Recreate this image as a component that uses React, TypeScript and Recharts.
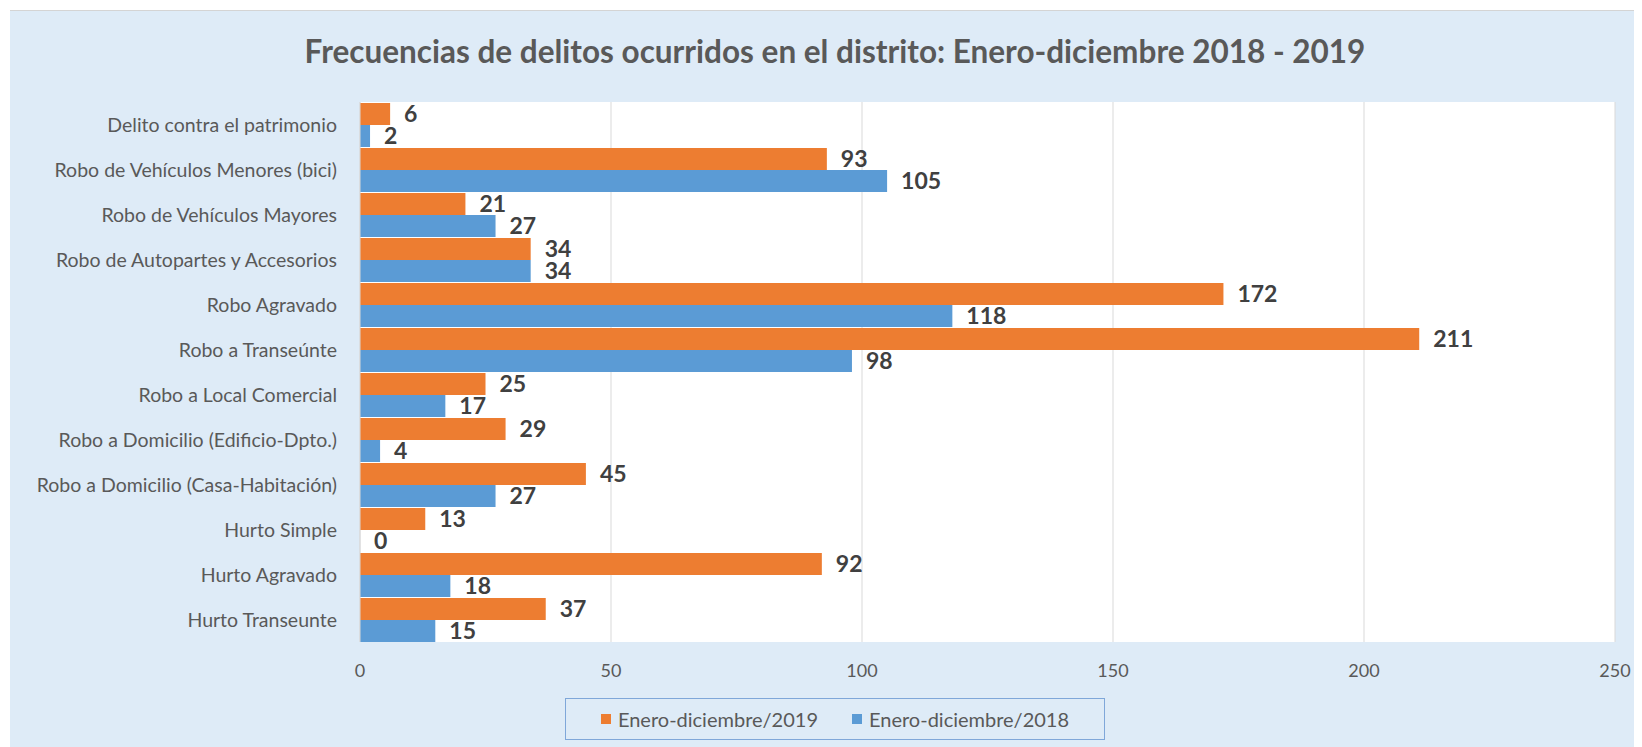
import React from 'react';
import { BarChart, Bar, XAxis, YAxis, CartesianGrid, LabelList } from 'recharts';

const categories = [
  'Delito contra el patrimonio',
  'Robo de Vehículos Menores (bici)',
  'Robo de Vehículos Mayores',
  'Robo de Autopartes y Accesorios',
  'Robo Agravado',
  'Robo a Transeúnte',
  'Robo a Local Comercial',
  'Robo a Domicilio (Edificio-Dpto.)',
  'Robo a Domicilio (Casa-Habitación)',
  'Hurto Simple',
  'Hurto Agravado',
  'Hurto Transeunte',
];
const values2019 = [6, 93, 21, 34, 172, 211, 25, 29, 45, 13, 92, 37];
const values2018 = [2, 105, 27, 34, 118, 98, 17, 4, 27, 0, 18, 15];
const xTicks = [0, 50, 100, 150, 200, 250];
const seriesNames = ['Enero-diciembre/2019', 'Enero-diciembre/2018'];
const title = 'Frecuencias de delitos ocurridos en el distrito: Enero-diciembre 2018 - 2019';

const data = categories.map((name, i) => ({ name, v2019: values2019[i], v2018: values2018[i] }));

const ORANGE = '#ED7D31';
const BLUE = '#5B9BD5';
const FONT = 'Lato, "Open Sans", sans-serif';

const YTick = (props: any) => {
  const { x, y, payload } = props;
  return (
    <text x={x - 23} y={y} textAnchor="end" dominantBaseline="central" fontSize={19.5} fill="#595959" fontFamily={FONT}>
      {payload.value}
    </text>
  );
};

const XTick = (props: any) => {
  const { x, y, payload } = props;
  return (
    <text x={x} y={y + 28} textAnchor="middle" dominantBaseline="central" fontSize={18} fill="#595959" fontFamily={FONT}>
      {payload.value}
    </text>
  );
};

export default function App() {
  return (
    <div
      style={{
        position: 'relative',
        marginLeft: 2,
        marginTop: 2,
        width: 1632,
        height: 737,
        background: '#DEEBF7',
        borderTop: '1px solid #D4D4D4',
        boxSizing: 'border-box',
        fontFamily: FONT,
      }}
    >
      <div
        style={{
          position: 'absolute',
          left: 0,
          width: 1650,
          top: 20,
          textAlign: 'center',
          fontSize: 31.5,
          fontWeight: 700,
          color: '#595959',
          lineHeight: '40px',
        }}
      >
        {title}
      </div>
      <div style={{ position: 'absolute', left: 0, top: 0 }}>
        <BarChart
          width={1632}
          height={736}
          data={data}
          layout="vertical"
          margin={{ top: 91, right: 27, left: 0, bottom: 0 }}
          barCategoryGap={1}
          barGap={0}
        >
          <CartesianGrid horizontal={false} vertical={true} stroke="#D9D9D9" fill="#FFFFFF" />
          <XAxis
            type="number"
            domain={[0, 250]}
            ticks={xTicks}
            height={105}
            axisLine={false}
            tickLine={false}
            tickSize={0}
            tickMargin={0}
            tick={<XTick />}
            interval={0}
          />
          <YAxis
            type="category"
            dataKey="name"
            width={350}
            axisLine={{ stroke: '#D9D9D9' }}
            tickLine={false}
            tickSize={0}
            tickMargin={0}
            tick={<YTick />}
            interval={0}
          />
          <Bar dataKey="v2019" name={seriesNames[0]} fill={ORANGE} isAnimationActive={false}>
            <LabelList dataKey="v2019" position="right" offset={14} fill="#404040" fontSize={23} fontWeight={700} fontFamily={FONT} />
          </Bar>
          <Bar dataKey="v2018" name={seriesNames[1]} fill={BLUE} minPointSize={0.01} isAnimationActive={false}>
            <LabelList dataKey="v2018" position="right" offset={14} fill="#404040" fontSize={23} fontWeight={700} fontFamily={FONT} />
          </Bar>
        </BarChart>
      </div>
      <div
        style={{
          position: 'absolute',
          left: 555,
          top: 687,
          width: 540,
          height: 42,
          border: '1px solid #7FA7D9',
          boxSizing: 'border-box',
          display: 'flex',
          alignItems: 'center',
          justifyContent: 'center',
          gap: 34,
          fontSize: 20,
          color: '#595959',
        }}
      >
        {seriesNames.map((s, i) => (
          <div key={s} style={{ display: 'flex', alignItems: 'center' }}>
            <span style={{ display: 'inline-block', width: 10, height: 10, background: i === 0 ? ORANGE : BLUE, marginRight: 7 }} />
            <span>{s}</span>
          </div>
        ))}
      </div>
    </div>
  );
}
